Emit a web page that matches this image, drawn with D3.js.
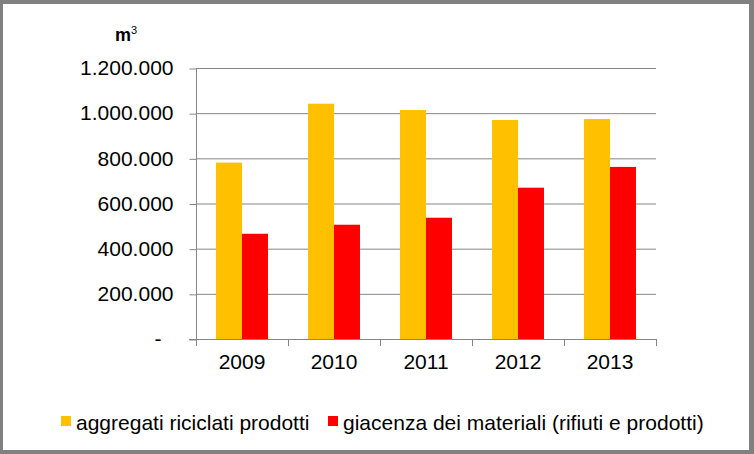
<!DOCTYPE html>
<html>
<head>
<meta charset="utf-8">
<script src="https://cdn.jsdelivr.net/npm/d3@7"></script>
<style>
  body { margin: 0; background: #fff; }
  text { font-family: "Liberation Sans", Arial, sans-serif; fill: #000; }
</style>
</head>
<body>
<div id="chart"></div>
<script>
// data
const years = ["2009", "2010", "2011", "2012", "2013"];
const aggregati = [781000, 1042000, 1014000, 970000, 974000];
const giacenza = [466000, 506000, 537000, 670000, 762000];
const seriesNames = ["aggregati riciclati prodotti", "giacenza dei materiali (rifiuti e prodotti)"];
const seriesColors = ["#FFC000", "#FF0000"];
const yTicks = [0, 200000, 400000, 600000, 800000, 1000000, 1200000];

const W = 754, H = 454;
const plot = { left: 196, right: 656, top: 68, bottom: 339 };

const svg = d3.select("#chart").append("svg")
    .attr("width", W)
    .attr("height", H);

// grey frame with white inner panel
svg.append("rect").attr("width", W).attr("height", H).attr("fill", "#808080");
svg.append("rect").attr("x", 3).attr("y", 4).attr("width", 746).attr("height", 446).attr("fill", "#fff");

const x = d3.scaleBand().domain(years).range([plot.left, plot.right]).paddingInner(0).paddingOuter(0);
// two bars per year, 26px each, leaving ~20px either side
const inner = d3.scaleBand().domain([0, 1]).range([0, x.bandwidth()]).paddingInner(0).paddingOuter(0.77);
const y = d3.scaleLinear().domain([0, 1200000]).range([plot.bottom, plot.top]);

const fmt = v => v === 0 ? "-" : d3.format(",")(v).replace(/,/g, ".");

// gridlines
svg.append("g")
    .selectAll("line")
    .data(yTicks.slice(1))
    .enter()
    .append("line")
    .attr("x1", plot.left)
    .attr("x2", plot.right)
    .attr("y1", d => y(d) + 0.5)
    .attr("y2", d => y(d) + 0.5)
    .attr("stroke", "#868686")
    .attr("stroke-width", 1);

// bars
const rows = years.map((yr, i) => ({ year: yr, vals: [aggregati[i], giacenza[i]] }));
const groups = svg.append("g")
    .selectAll("g")
    .data(rows)
    .enter()
    .append("g")
    .attr("transform", d => `translate(${x(d.year)},0)`);

groups.selectAll("rect")
    .data(d => d.vals.map((v, k) => ({ v, k })))
    .enter()
    .append("rect")
    .attr("x", d => inner(d.k))
    .attr("width", inner.bandwidth())
    .attr("y", d => y(d.v))
    .attr("height", d => y(0) - y(d.v))
    .attr("fill", d => seriesColors[d.k]);

// y axis
const yAxis = svg.append("g")
    .attr("transform", `translate(${plot.left + 0.5},0)`)
    .call(d3.axisLeft(y).tickValues(yTicks).tickFormat(fmt).tickSize(7).tickPadding(16));
yAxis.selectAll("line").attr("stroke", "#868686").attr("transform", "translate(0,0.5)");
yAxis.select(".domain").attr("stroke", "#868686").attr("d", `M0,${plot.top}V${plot.bottom}`);
yAxis.selectAll("text").style("font-size", "21px").attr("fill", "#000");
// the zero dash sits further left, like the accounting format
yAxis.selectAll(".tick").filter(d => d === 0).select("text").attr("dx", -12);

// x axis
const xAxis = svg.append("g")
    .attr("transform", `translate(0,${plot.bottom + 0.5})`)
    .call(d3.axisBottom(x).tickSize(0).tickPadding(15));
xAxis.select(".domain").attr("stroke", "#868686").attr("d", `M${plot.left - 7},0H${plot.right}`);
xAxis.selectAll("text").style("font-size", "21px").attr("fill", "#000");
// category separators
svg.append("g")
    .selectAll("line")
    .data(years.concat(["end"]))
    .enter()
    .append("line")
    .attr("x1", (d, i) => (i < years.length ? x(d) : plot.right) + 0.5)
    .attr("x2", (d, i) => (i < years.length ? x(d) : plot.right) + 0.5)
    .attr("y1", plot.bottom)
    .attr("y2", plot.bottom + 7)
    .attr("stroke", "#868686");

// unit label
const unit = svg.append("text")
    .attr("x", 115)
    .attr("y", 41)
    .style("font-size", "18px")
    .style("font-weight", "bold");
unit.append("tspan").text("m");
unit.append("tspan").attr("dy", -7).style("font-size", "11px").style("font-weight", "normal").text("3");

// legend
const legendX = [61, 328];
const legend = svg.append("g");
seriesNames.forEach((name, k) => {
    legend.append("rect")
        .attr("x", legendX[k])
        .attr("y", 416)
        .attr("width", 10)
        .attr("height", 10)
        .attr("fill", seriesColors[k]);
    legend.append("text")
        .attr("x", legendX[k] + 15)
        .attr("y", 430)
        .style("font-size", "21px")
        .text(name);
});
</script>
</body>
</html>
